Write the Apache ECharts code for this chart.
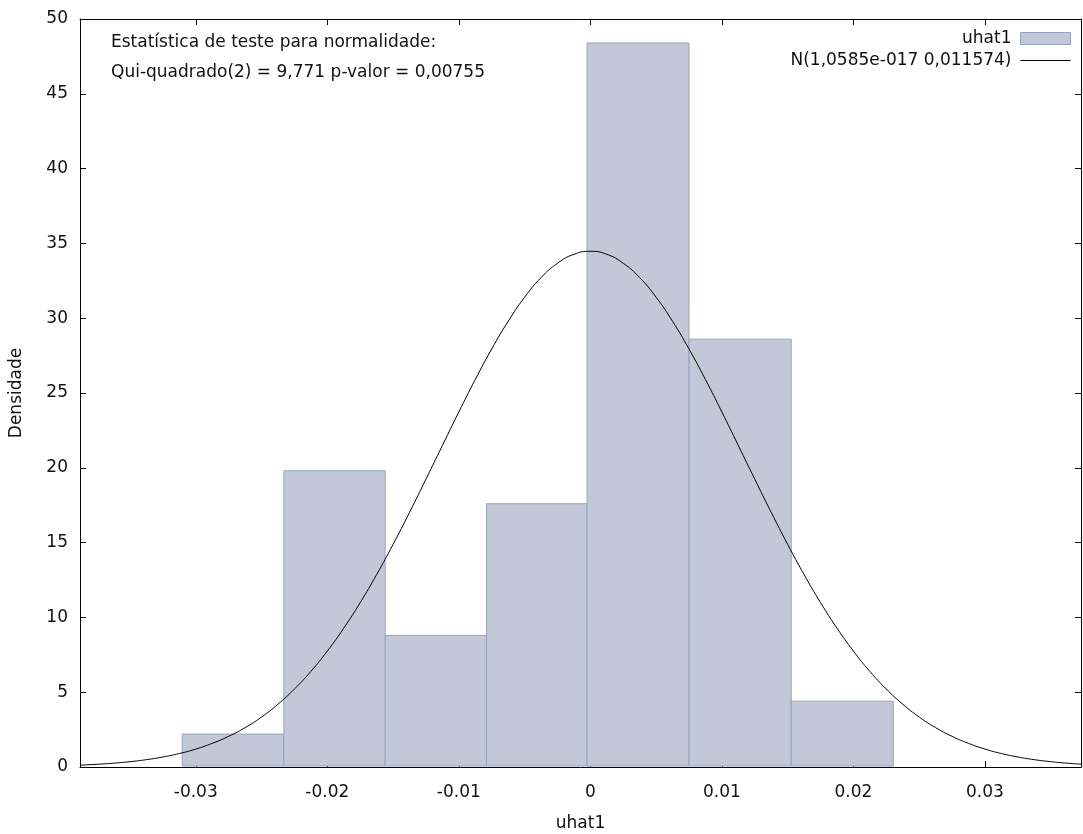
<!DOCTYPE html>
<html>
<head>
<meta charset="utf-8">
<script src="https://cdn.jsdelivr.net/npm/echarts@6/dist/echarts.min.js"></script>
<style>html,body{margin:0;padding:0;background:#fff}#c{width:1083px;height:834px}</style>
</head>
<body>
<div id="c"></div>
<script>
// Histogram bins: [left edge, right edge], densities
const binEdges = [-0.03103, -0.02330, -0.01560, -0.00790, -0.00025, 0.00750, 0.01527, 0.02303];
const densities = [2.2, 19.8, 8.8, 17.6, 48.4, 28.6, 4.4];
// Normal density curve points
const curveX = [-0.0388, -0.0375, -0.03625, -0.035, -0.03375, -0.0325, -0.03125, -0.03, -0.02875, -0.0275, -0.02625, -0.025, -0.02375, -0.0225, -0.02125, -0.02, -0.01875, -0.0175, -0.01625, -0.015, -0.01375, -0.0125, -0.01125, -0.01, -0.00875, -0.0075, -0.00625, -0.005, -0.00375, -0.0025, -0.00125, 0, 0.00125, 0.0025, 0.00375, 0.005, 0.00625, 0.0075, 0.00875, 0.01, 0.01125, 0.0125, 0.01375, 0.015, 0.01625, 0.0175, 0.01875, 0.02, 0.02125, 0.0225, 0.02375, 0.025, 0.02625, 0.0275, 0.02875, 0.03, 0.03125, 0.0325, 0.03375, 0.035, 0.03625, 0.0373];
const curveY = [0.125, 0.181, 0.255, 0.356, 0.49, 0.669, 0.90, 1.198, 1.58, 2.05, 2.63, 3.34, 4.20, 5.21, 6.39, 7.75, 9.28, 10.99, 12.86, 14.88, 17.02, 19.24, 21.49, 23.73, 25.90, 27.94, 29.79, 31.40, 32.71, 33.67, 34.27, 34.47, 34.27, 33.67, 32.71, 31.40, 29.79, 27.94, 25.90, 23.73, 21.49, 19.24, 17.02, 14.88, 12.86, 10.99, 9.28, 7.75, 6.39, 5.21, 4.20, 3.34, 2.63, 2.05, 1.58, 1.198, 0.90, 0.669, 0.49, 0.356, 0.255, 0.19];
const xTicks = [-0.03, -0.02, -0.01, 0, 0.01, 0.02, 0.03];
const yTicks = [0, 5, 10, 15, 20, 25, 30, 35, 40, 45, 50];
const histName = 'uhat1';
const curveName = 'N(1,0585e-017 0,011574)';
const noteLines = ['Estatística de teste para normalidade:', 'Qui-quadrado(2) = 9,771 p-valor = 0,00755'];

const histData = densities.map((d, i) => [binEdges[i], binEdges[i + 1], d]);
const curveData = curveX.map((x, i) => [x, curveY[i]]);
const FONT = 'DejaVu Sans';
const FS = 17;
const TXT = '#111';

const chart = echarts.init(document.getElementById('c'));
chart.setOption({
  animation: false,
  textStyle: { fontFamily: FONT },
  grid: { left: 80, right: 2, top: 19, bottom: 67, containLabel: false, outerBoundsMode: 'none' },
  legend: {
    right: 12, top: 30, orient: 'vertical', align: 'right', padding: 0,
    itemWidth: 50, itemHeight: 12, itemGap: 5,
    textStyle: { fontFamily: FONT, fontSize: FS, color: TXT, padding: [0, 4, 0, 0] },
    data: [
      { name: histName, icon: 'rect', itemStyle: { color: '#c2c8d7', borderColor: '#97a3bc', borderWidth: 1 } },
      { name: curveName, itemStyle: { opacity: 0 }, lineStyle: { color: '#000', width: 1, opacity: 1 } }
    ]
  },
  xAxis: [{
    type: 'value', min: -0.0388, max: 0.0373,
    name: 'uhat1', nameLocation: 'middle', nameGap: 48,
    nameTextStyle: { fontFamily: FONT, fontSize: FS, color: TXT },
    splitLine: { show: false },
    axisLine: { show: true, onZero: false, lineStyle: { color: '#000', width: 1 } },
    axisTick: { show: true, inside: true, length: 6, customValues: xTicks, lineStyle: { color: '#000' } },
    axisLabel: { customValues: xTicks, margin: 17, fontSize: FS, color: TXT, fontFamily: FONT, formatter: v => String(v) }
  }, {
    type: 'value', position: 'top', min: -0.0388, max: 0.0373,
    splitLine: { show: false },
    axisLine: { show: true, onZero: false, lineStyle: { color: '#000', width: 1 } },
    axisTick: { show: true, inside: true, length: 6, customValues: xTicks, lineStyle: { color: '#000' } },
    axisLabel: { show: false }
  }],
  yAxis: [{
    type: 'value', min: 0, max: 50, interval: 5,
    name: 'Densidade', nameLocation: 'middle', nameGap: 55, nameRotate: 90,
    nameTextStyle: { fontFamily: FONT, fontSize: FS, color: TXT },
    splitLine: { show: false },
    axisLine: { show: true, onZero: false, lineStyle: { color: '#000', width: 1 } },
    axisTick: { show: true, inside: true, length: 6, lineStyle: { color: '#000' } },
    axisLabel: { margin: 12, fontSize: FS, color: TXT, fontFamily: FONT,
      formatter: v => yTicks.indexOf(v) >= 0 ? String(v) : '' }
  }, {
    type: 'value', position: 'right', min: 0, max: 50, interval: 5,
    splitLine: { show: false },
    axisLine: { show: true, onZero: false, lineStyle: { color: '#000', width: 1 } },
    axisTick: { show: true, inside: true, length: 6, lineStyle: { color: '#000' } },
    axisLabel: { show: false }
  }],
  graphic: noteLines.map((t, i) => ({
    type: 'text', left: 111, top: 34 + i * 30,
    style: { text: t, font: FS + 'px "DejaVu Sans"', fill: TXT }
  })),
  series: [{
    name: histName,
    type: 'custom',
    xAxisIndex: 0, yAxisIndex: 0,
    z: 2,
    itemStyle: { color: '#c2c8d7', borderColor: '#97a3bc' },
    encode: { x: [0, 1], y: 2 },
    renderItem: function (params, api) {
      const p0 = api.coord([api.value(0), 0]);
      const p1 = api.coord([api.value(1), api.value(2)]);
      return {
        type: 'rect',
        shape: { x: p0[0], y: p1[1], width: p1[0] - p0[0], height: p0[1] - p1[1] - 1 },
        style: { fill: '#c2c8d7', stroke: '#97a3bc', lineWidth: 1 }
      };
    },
    data: histData
  }, {
    name: curveName,
    type: 'line',
    xAxisIndex: 0, yAxisIndex: 0,
    z: 3,
    smooth: true,
    showSymbol: false,
    symbol: 'none',
    lineStyle: { color: '#000', width: 1 },
    itemStyle: { color: '#000' },
    data: curveData
  }]
});
</script>
</body>
</html>
